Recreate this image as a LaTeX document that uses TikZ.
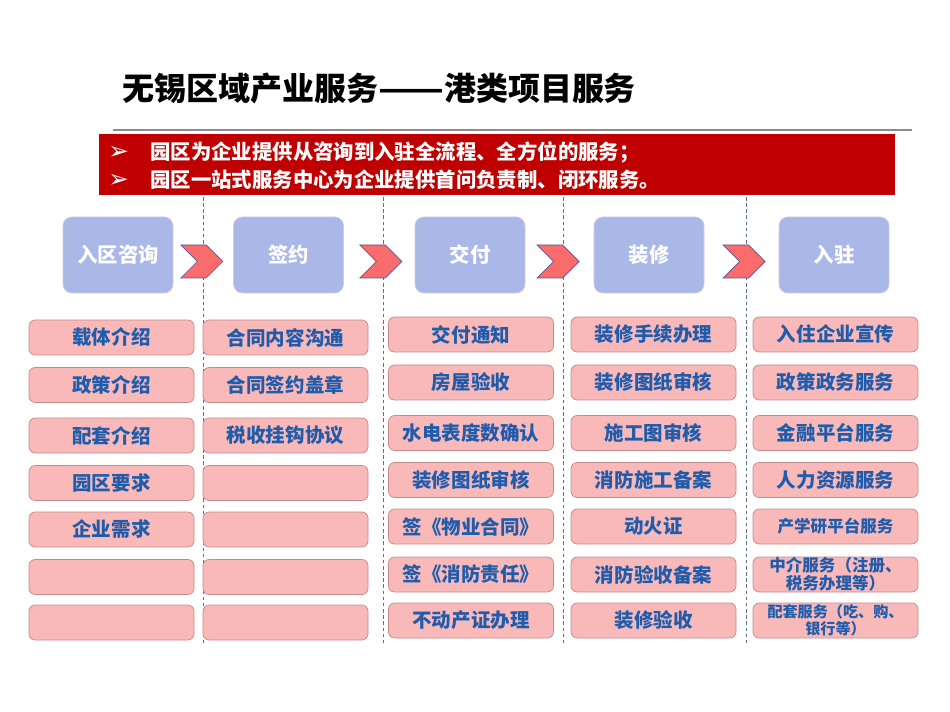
\documentclass[tikz,border=0pt]{standalone}
\usepackage{fontspec}
\setmainfont{Noto Sans CJK SC}
\newfontfamily\symfont{DejaVu Sans}
\usepackage{graphicx}
\usepackage{tikz}
\usetikzlibrary{shapes.symbols,calc}
\definecolor{bannerred}{RGB}{192,0,0}
\definecolor{stagefill}{RGB}{170,184,232}
\definecolor{stageedge}{RGB}{214,200,226}
\definecolor{itemfill}{RGB}{249,185,185}
\definecolor{itemedge}{RGB}{196,138,140}
\definecolor{itemtext}{RGB}{32,92,172}
\definecolor{chevfill}{RGB}{250,108,108}
\definecolor{chevedge}{RGB}{92,84,150}
\definecolor{sepline}{RGB}{90,112,150}

\begin{document}
\begin{tikzpicture}[
    stage/.style={draw=stageedge, fill=stagefill, rounded corners=5pt, minimum width=2.2cm, minimum height=1.52cm, text=white, font=\fontsize{11.6pt}{13pt}\selectfont\bfseries},
    item/.style={draw=itemedge, fill=itemfill, rounded corners=3.5pt, minimum width=3.3cm, minimum height=0.7cm, inner sep=0pt, align=center, text=itemtext, font=\fontsize{11.1pt}{13pt}\selectfont\bfseries},
    chev/.style={shape=signal, signal from=west, signal to=east, signal pointer angle=90, draw=chevedge, fill=chevfill, minimum width=0.84cm, minimum height=0.66cm, inner sep=0pt},
    sep/.style={draw=sepline, line width=0.5pt, dash pattern=on 2pt off 1.5pt}
]
\useasboundingbox[fill=white] (0,0) rectangle (19,-14.24);

% title and banner
\node[anchor=west, inner sep=0pt, font=\fontsize{18.2pt}{20pt}\selectfont\bfseries] (title) at (2.44,-1.76) {无锡区域产业服务\scalebox{1.2}[1]{——}港类项目服务};
\draw[line width=1.2pt, black!45] (2.26,-2.6) -- (18.24,-2.6);
\node[fill=bannerred, minimum width=15.92cm, minimum height=1.22cm, inner sep=0pt] (banner) at (9.94,-3.29) {};
\node[anchor=west, align=left, text=white, inner sep=0pt, font=\fontsize{11.6pt}{15.9pt}\selectfont\bfseries] (bannertext) at (2.16,-3.32)
  {\makebox[0.84cm][l]{\symfont\fontsize{14pt}{15.9pt}\selectfont ➢}园区为企业提供从咨询到入驻全流程、全方位的服务；\\
   \makebox[0.84cm][l]{\symfont\fontsize{14pt}{15.9pt}\selectfont ➢}园区一站式服务中心为企业提供首问负责制、闭环服务。};

% column separators
\draw[sep] (4.06,-3.94) -- (4.06,-12.9);
\draw[sep] (7.66,-3.94) -- (7.66,-12.9);
\draw[sep] (11.26,-3.94) -- (11.26,-12.9);
\draw[sep] (14.92,-3.94) -- (14.92,-12.9);

% stages
\node[stage] (consult) at (2.36,-5.10) {入区咨询};
\node[stage] (sign) at (5.77,-5.10) {签约};
\node[stage] (deliver) at (9.40,-5.10) {交付};
\node[stage] (decor) at (12.98,-5.10) {装修};
\node[stage] (settle) at (16.68,-5.10) {入驻};

\node[chev] (step1) at ($(consult.east)!0.5!(sign.west)+(-0.03,-0.13)$) {};
\node[chev] (step2) at ($(sign.east)!0.5!(deliver.west)+(0.03,-0.13)$) {};
\node[chev] (step3) at ($(deliver.east)!0.5!(decor.west)+(-0.03,-0.13)$) {};
\node[chev] (step4) at ($(decor.east)!0.5!(settle.west)+(0.05,-0.13)$) {};

% 入区咨询
\node[item] (consult1) at (2.23,-6.75) {载体介绍};
\node[item] (consult2) at (2.23,-7.70) {政策介绍};
\node[item] (consult3) at (2.23,-8.71) {配套介绍};
\node[item] (consult4) at (2.23,-9.66) {园区要求};
\node[item] (consult5) at (2.23,-10.59) {企业需求};
\node[item] (consult6) at (2.23,-11.54) {};
\node[item] (consult7) at (2.23,-12.45) {};

% 签约
\node[item] (sign1) at (5.71,-6.75) {合同内容沟通};
\node[item] (sign2) at (5.71,-7.70) {合同签约盖章};
\node[item] (sign3) at (5.71,-8.71) {税收挂钩协议};
\node[item] (sign4) at (5.71,-9.66) {};
\node[item] (sign5) at (5.71,-10.59) {};
\node[item] (sign6) at (5.71,-11.54) {};
\node[item] (sign7) at (5.71,-12.45) {};

% 交付
\node[item] (deliver1) at (9.42,-6.69) {交付通知};
\node[item] (deliver2) at (9.42,-7.65) {房屋验收};
\node[item] (deliver3) at (9.42,-8.66) {水电表度数确认};
\node[item] (deliver4) at (9.42,-9.60) {装修图纸审核};
\node[item] (deliver5) at (9.42,-10.53) {签《物业合同》};
\node[item] (deliver6) at (9.42,-11.49) {签《消防责任》};
\node[item] (deliver7) at (9.42,-12.41) {不动产证办理};

% 装修
\node[item] (decor1) at (13.07,-6.69) {装修手续办理};
\node[item] (decor2) at (13.07,-7.65) {装修图纸审核};
\node[item] (decor3) at (13.07,-8.66) {施工图审核};
\node[item] (decor4) at (13.07,-9.60) {消防施工备案};
\node[item] (decor5) at (13.07,-10.53) {动火证};
\node[item] (decor6) at (13.07,-11.49) {消防验收备案};
\node[item] (decor7) at (13.07,-12.41) {装修验收};

% 入驻
\node[item] (settle1) at (16.71,-6.69) {入住企业宣传};
\node[item] (settle2) at (16.71,-7.65) {政策政务服务};
\node[item] (settle3) at (16.71,-8.66) {金融平台服务};
\node[item] (settle4) at (16.71,-9.60) {人力资源服务};
\node[item, font=\fontsize{9.4pt}{11pt}\selectfont\bfseries] (settle5) at (16.71,-10.53) {产学研平台服务};
\node[item, font=\fontsize{9.4pt}{10.3pt}\selectfont\bfseries] (settle6) at (16.71,-11.49) {中介服务（注册、\\税务办理等）};
\node[item, font=\fontsize{8.6pt}{9.8pt}\selectfont\bfseries] (settle7) at (16.71,-12.41) {配套服务（吃、购、\\银行等）};
\end{tikzpicture}
\end{document}
